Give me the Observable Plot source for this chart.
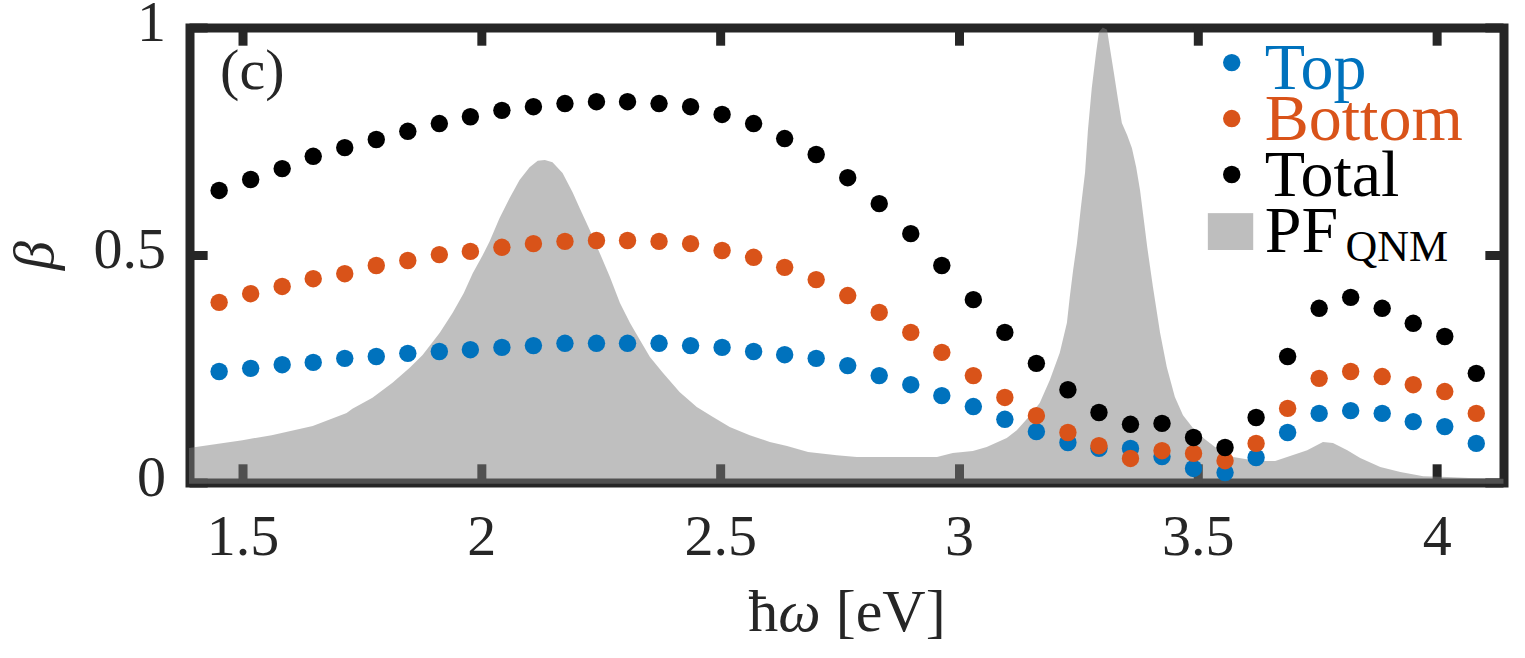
<!DOCTYPE html>
<html>
<head>
<meta charset="utf-8">
<script src="https://cdn.jsdelivr.net/npm/d3@7"></script>
<script src="https://cdn.jsdelivr.net/npm/@observablehq/plot@0.6"></script>
<style>
  html, body { margin: 0; padding: 0; background: #fff; }
  svg { display: block; }
</style>
</head>
<body>
<div id="chart"></div>
<script>
const energy = [1.450,1.516,1.582,1.647,1.713,1.779,1.845,1.911,1.976,2.042,2.108,2.174,2.240,2.305,2.371,2.437,2.503,2.569,2.634,2.700,2.766,2.832,2.898,2.963,3.029,3.095,3.161,3.227,3.292,3.358,3.424,3.490,3.556,3.621,3.687,3.753,3.819,3.885,3.950,4.016,4.082];
const top_ = [.245,.252,.260,.265,.274,.278,.285,.289,.293,.298,.302,.307,.307,.307,.307,.302,.298,.289,.282,.274,.258,.236,.216,.192,.168,.140,.113,.089,.076,.076,.058,.032,.023,.056,.111,.153,.159,.153,.135,.124,.087];
const bottom = [.397,.416,.432,.449,.460,.478,.489,.502,.509,.518,.526,.531,.533,.533,.531,.526,.511,.496,.474,.447,.412,.375,.331,.287,.236,.188,.148,.111,.082,.054,.071,.065,.049,.087,.164,.230,.245,.234,.216,.201,.153];
const total = [.643,.667,.691,.718,.737,.755,.773,.790,.805,.819,.827,.834,.838,.838,.834,.827,.810,.790,.757,.722,.671,.614,.548,.478,.403,.331,.263,.205,.155,.129,.131,.100,.078,.144,.278,.384,.408,.384,.351,.322,.241];

const pfEnergy = [1.388,1.500,1.561,1.647,1.718,1.730,1.772,1.814,1.850,1.877,1.913,1.940,1.963,1.982,2.003,2.017,2.038,2.059,2.080,2.101,2.118,2.133,2.149,2.170,2.191,2.206,2.227,2.248,2.269,2.290,2.311,2.332,2.353,2.380,2.415,2.451,2.485,2.520,2.562,2.604,2.640,2.684,2.744,2.786,2.954,2.987,3.029,3.058,3.100,3.121,3.144,3.169,3.190,3.211,3.226,3.232,3.239,3.247,3.255,3.264,3.270,3.278,3.287,3.293,3.301,3.310,3.316,3.324,3.333,3.341,3.352,3.362,3.371,3.379,3.387,3.394,3.406,3.421,3.435,3.452,3.469,3.498,3.536,3.574,3.624,3.662,3.687,3.729,3.762,3.783,3.813,3.840,3.882,3.924,3.972,4.022,4.102,4.140];
const pfValue = [.076,.093,.104,.124,.153,.162,.186,.219,.252,.280,.329,.373,.416,.460,.500,.529,.581,.625,.665,.693,.707,.709,.704,.680,.638,.603,.555,.504,.452,.395,.351,.313,.276,.241,.199,.166,.144,.122,.104,.089,.080,.067,.060,.056,.056,.065,.069,.078,.098,.115,.142,.175,.225,.285,.351,.408,.467,.526,.603,.682,.775,.867,.944,.990,1.0,.995,.955,.902,.841,.790,.764,.735,.693,.643,.577,.518,.430,.329,.254,.188,.148,.109,.078,.056,.047,.047,.056,.071,.089,.087,.071,.054,.034,.023,.014,.012,.008,.008];

const xTicks = [1.5, 2, 2.5, 3, 3.5, 4];
const yTicks = [0, 0.5, 1];
const legendNames = ["Top", "Bottom", "Total"];
const legendColors = ["#0072BD", "#D95319", "#000000"];

const ink = "#262626";
const xMin = 1.389, xMax = 4.14;
const dotR = 8.7;

const pf = pfEnergy.map((x, i) => ({x, y: pfValue[i]}));
const series = (values) => energy.map((x, i) => ({x, y: values[i]}));

// legend rows, in data units
const legendDotY = [0.924, 0.801, 0.678];
const legendTextY = [0.867, 0.753, 0.630];
const legendRows = legendNames.map((name, i) => ({name, color: legendColors[i], dotY: legendDotY[i], textY: legendTextY[i]}));

const plot = Plot.plot({
  width: 1525,
  height: 658,
  marginLeft: 189.5,
  marginRight: 21.5,
  marginTop: 27.5,
  marginBottom: 175.5,
  style: {fontFamily: "'Liberation Serif', serif", background: "#fff", overflow: "visible"},
  x: {domain: [xMin, xMax], axis: null},
  y: {domain: [0, 1], axis: null},
  marks: [
    Plot.axisX({ticks: xTicks, tickFormat: String, tickSize: 0, tickPadding: 31, fontSize: 58, fill: ink,
      label: "ħω [eV]", labelAnchor: "center", labelArrow: "none", labelOffset: 148}),
    Plot.axisY({ticks: yTicks, tickFormat: String, tickSize: 0, tickPadding: 24, fontSize: 58, fill: ink, dy: -6,
      label: "β", labelAnchor: "center", labelArrow: "none", labelOffset: 178}),
    Plot.frame({stroke: ink, strokeWidth: 9}),
    Plot.ruleX(xTicks, {y1: 0, y2: 0.04, stroke: ink, strokeWidth: 9}),
    Plot.ruleX(xTicks, {y1: 0.96, y2: 1, stroke: ink, strokeWidth: 9}),
    Plot.ruleY(yTicks, {x1: xMin, x2: xMin + 0.038, stroke: ink, strokeWidth: 9}),
    Plot.ruleY(yTicks, {x1: xMax - 0.038, x2: xMax, stroke: ink, strokeWidth: 9}),
    // see-through so the frame and ticks show darker under it
    Plot.areaY(pf, {x: "x", y1: () => -0.003, y2: "y", fill: "#7c7c7c", fillOpacity: 0.49}),
    Plot.dot(series(top_), {x: "x", y: "y", r: dotR, fill: legendColors[0]}),
    Plot.dot(series(bottom), {x: "x", y: "y", r: dotR, fill: legendColors[1]}),
    Plot.dot(series(total), {x: "x", y: "y", r: dotR, fill: legendColors[2]}),
    Plot.dot(legendRows, {x: () => 3.57, y: "dotY", r: dotR, fill: "color"}),
    Plot.text(legendRows, {x: () => 3.639, y: "textY", text: "name", fill: "color", fontSize: 66, textAnchor: "start", lineAnchor: "bottom"}),
    Plot.rect([0], {x1: () => 3.521, x2: () => 3.616, y1: () => 0.511, y2: () => 0.592, fill: "#bebebe"}),
    Plot.text(["PF"], {x: () => 3.639, y: () => 0.507, text: d => d, fill: "#000", fontSize: 66, textAnchor: "start", lineAnchor: "bottom"}),
    Plot.text(["QNM"], {x: () => 3.808, y: () => 0.487, text: d => d, fill: "#000", fontSize: 44, textAnchor: "start", lineAnchor: "bottom"}),
    Plot.text(["(c)"], {x: () => 1.452, y: () => 0.865, text: d => d, fill: ink, fontSize: 58, textAnchor: "start", lineAnchor: "bottom"})
  ]
});

// italic greek in the axis labels
d3.select(plot).selectAll("text").each(function() {
  const t = d3.select(this);
  if (t.text() === "β") {
    t.style("font-style", "italic").style("font-size", "58px");
  } else if (t.text() === "ħω [eV]") {
    const inner = t.selectAll("tspan").empty() ? t : t.select("tspan");
    inner.text("ħ");
    inner.append("tspan").style("font-style", "italic").text("ω");
    inner.append("tspan").text(" [eV]");
    t.style("font-size", "60px");
  }
});

document.getElementById("chart").appendChild(plot);
</script>
</body>
</html>
